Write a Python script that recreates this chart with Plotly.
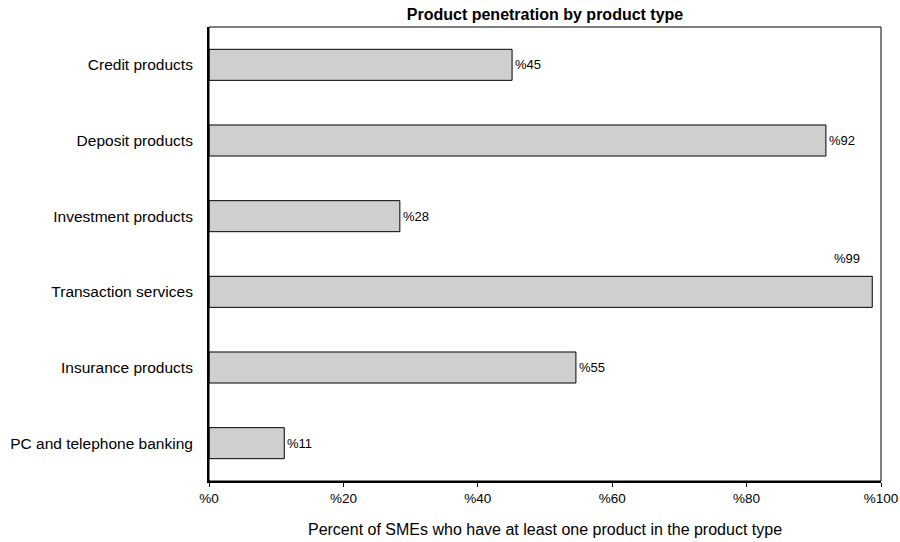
import plotly.graph_objects as go

categories = ["Credit products", "Deposit products", "Investment products",
              "Transaction services", "Insurance products", "PC and telephone banking"]
values = [45, 92, 28, 99, 55, 11]
bar_ends = [45.1, 91.8, 28.4, 98.7, 54.6, 11.2]
tick_vals = [0, 20, 40, 60, 80, 100]
tick_labels = ["%0", "%20", "%40", "%60", "%80", "%100"]

FONT = "Liberation Sans, Arial"

fig = go.Figure()
fig.add_trace(go.Bar(
    y=categories, x=bar_ends, orientation="h",
    marker=dict(color="#cfcfcf", line=dict(color="black", width=1)),
    hoverinfo="skip"))

for c, v, e in zip(categories, values, bar_ends):
    if v >= 99:
        fig.add_annotation(x=e, y=c, text="%" + str(v), showarrow=False,
                           xanchor="right", yanchor="bottom", xshift=-10, yshift=24,
                           font=dict(size=13, family=FONT, color="black"))
    else:
        fig.add_annotation(x=e, y=c, text="%" + str(v), showarrow=False,
                           xanchor="left", xshift=1,
                           font=dict(size=13, family=FONT, color="black"))

fig.add_shape(type="rect", xref="paper", yref="paper", x0=0, x1=1, y0=0, y1=1,
              line=dict(color="black", width=1))

fig.update_layout(
    width=900, height=542,
    margin=dict(l=209, r=19, t=27, b=61, autoexpand=False),
    plot_bgcolor="white", paper_bgcolor="white",
    bargap=0.59,
    showlegend=False,
    font=dict(family=FONT, size=13, color="black"),
    title=dict(text="<b>Product penetration by product type</b>", x=0.6056, xanchor="center",
               y=0.973, yanchor="middle", font=dict(size=16, color="black")),
    xaxis=dict(range=[0, 100], tickvals=tick_vals, ticktext=tick_labels, automargin=False,
               showgrid=False, zeroline=False, showline=True, linecolor="black", linewidth=2,
               ticks="outside", ticklen=4, tickcolor="black", tickwidth=1,
               tickfont=dict(size=13.5, color="black"),
               title=dict(text="Percent of SMEs who have at least one product in the product type",
                          font=dict(size=16, color="black"), standoff=19)),
    yaxis=dict(autorange="reversed", showgrid=False, zeroline=False, showline=True, automargin=False,
               linecolor="black", linewidth=2, ticks="", ticklabelstandoff=11,
               tickfont=dict(size=15.5, color="black")),
)

fig.write_html("out.html", config={"displayModeBar": False},
               post_script="document.body.style.margin='0';document.body.style.overflow='hidden';")
